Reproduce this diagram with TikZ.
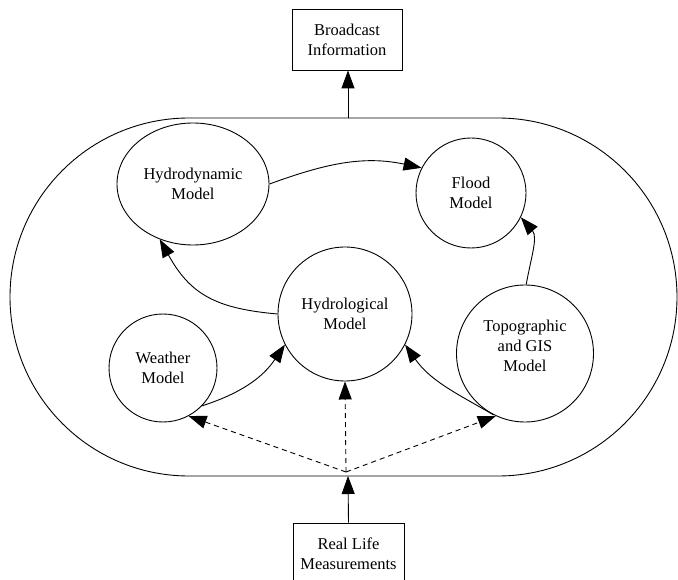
\documentclass[tikz,border=0pt]{standalone}
\usepackage{fontspec}
\setmainfont{Liberation Serif}
\usetikzlibrary{arrows.meta,shapes.geometric}

\begin{document}
\begin{tikzpicture}[x=1pt,y=1pt,
  every node/.style={font=\fontsize{16.5}{20}\selectfont, align=center},
  model/.style={draw, ellipse, inner sep=0pt, line width=0.9pt},
  box/.style={draw, rectangle, inner sep=0pt, line width=0.9pt},
  frame/.style={line width=0.9pt},
  flow/.style={-{Triangle[length=18pt,width=13pt]}, line width=0.9pt},
  feed/.style={flow, dash pattern=on 5pt off 4pt}]
\useasboundingbox (0,0) rectangle (678,-580);
\clip (0,0) rectangle (678,-580);

% outer system boundary (stadium shape)
\draw[frame] (189,-118) arc (90:270:179) -- (498,-476) arc (-90:90:179) -- cycle;
\coordinate (sysTop) at (348,-118);
\coordinate (sysBottom) at (348,-476);
\coordinate (hub) at (346,-472);

% input and output boxes
\node[box, minimum width=110pt, minimum height=61pt] (bc) at (347,-39.5) {Broadcast\\Information};
\node[box, minimum width=111pt, minimum height=62pt] (rl) at (348.5,-554) {Real Life\\Measurements};

% models
\node[model, minimum width=152pt, minimum height=122pt] (hd) at (193,-184) {Hydrodynamic\\Model};
\node[model, minimum width=110pt, minimum height=110pt] (fl) at (471,-193) {Flood\\Model};
\node[model, minimum width=134pt, minimum height=134pt] (hl) at (345,-314) {Hydrological\\Model};
\node[model, minimum width=108pt, minimum height=108pt] (we) at (163,-368) {Weather\\Model};
\node[model, minimum width=137pt, minimum height=137pt] (tg) at (525,-353.5) {};
\node (tgtext) at (525,-346) {Topographic\\and GIS\\Model};

% data flow between models
\draw[flow] (hd.0) to[out=20,in=168] (fl.153);
\draw[flow] (hl.180) to[out=175,in=-61,looseness=1.15] (hd.239);
\draw[flow] (tg.89) to[out=80,in=-49] (fl.-26);
\draw[flow] (we.-44) to[out=18,in=236] (hl.207);
\draw[flow] (tg.243) to[out=150,in=305] (hl.-27);

% measurements feeding the models
\draw[feed] (hub) -- (we.-62);
\draw[feed] (hub) -- (hl.south);
\draw[feed] (hub) -- (tg.245);

% system input and output
\draw[flow] (rl.north) -- (sysBottom);
\draw[flow] (sysTop) -- (sysTop |- bc.south);
\end{tikzpicture}
\end{document}
